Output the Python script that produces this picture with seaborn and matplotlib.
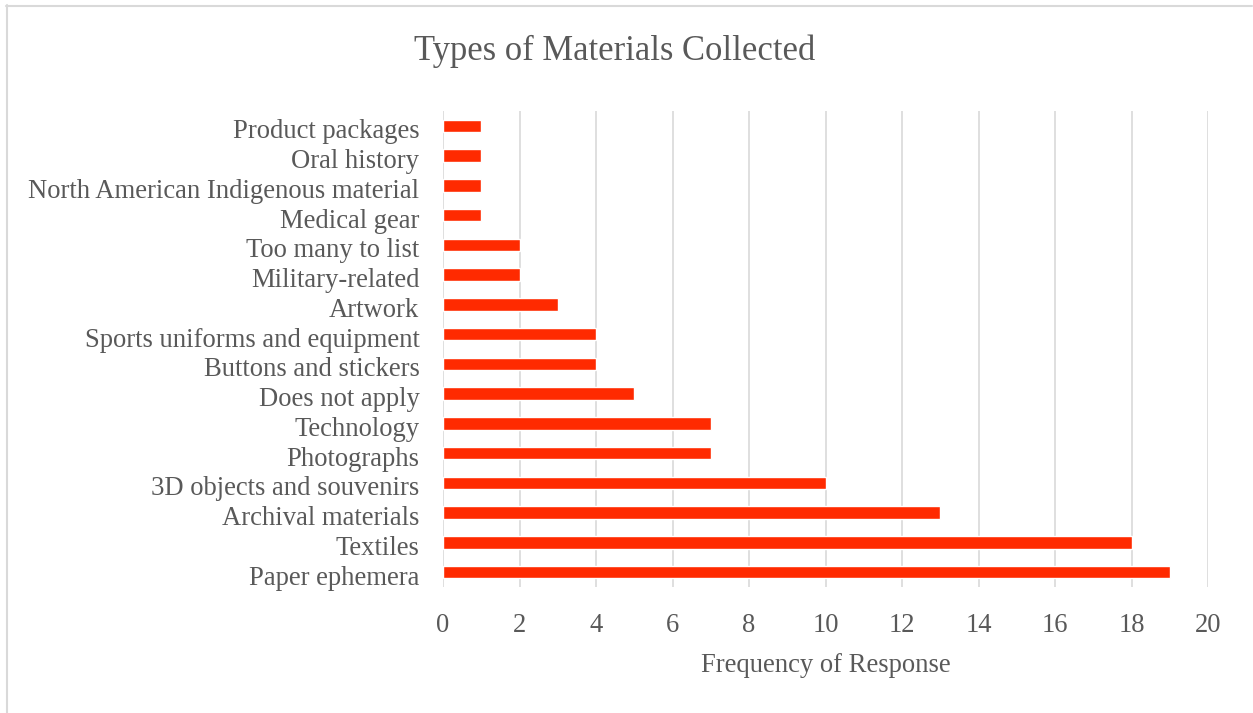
import matplotlib
matplotlib.use("Agg")
import matplotlib.pyplot as plt
import matplotlib.transforms as mtransforms
import seaborn as sns
import pandas as pd

categories = [
    "Product packages",
    "Oral history",
    "North American Indigenous material",
    "Medical gear",
    "Too many to list",
    "Military-related",
    "Artwork",
    "Sports uniforms and equipment",
    "Buttons and stickers",
    "Does not apply",
    "Technology",
    "Photographs",
    "3D objects and souvenirs",
    "Archival materials",
    "Textiles",
    "Paper ephemera",
]
counts = [1, 1, 1, 1, 2, 2, 3, 4, 4, 5, 7, 7, 10, 13, 18, 19]
x_ticks = list(range(0, 21, 2))

df = pd.DataFrame({"category": categories, "count": counts})

sns.set_theme(style="white")
plt.rcParams["font.family"] = ["Liberation Serif", "DejaVu Serif"]

text_color = "#595959"
grid_color = "#D9D9D9"
bar_color = "#FF2A00"

fig = plt.figure(figsize=(12.53, 7.13), dpi=100)
ax = fig.add_axes([0.3536, 0.1767, 0.6105, 0.6676])

sns.barplot(data=df, x="count", y="category", orient="h", color=bar_color,
            width=0.42, saturation=1, ax=ax, order=categories)

ax.set_xlim(0, 20)
ax.set_ylim(len(categories) - 0.5, -0.5)
ax.set_xticks(x_ticks)
ax.set_xticklabels([str(t) for t in x_ticks])
ax.xaxis.grid(True, color=grid_color, linewidth=1.2)
ax.set_axisbelow(True)
for s in ax.spines.values():
    s.set_visible(False)
ax.tick_params(axis="both", length=0, labelsize=19.2, colors=text_color)
ax.tick_params(axis="x", pad=19)
ax.tick_params(axis="y", pad=17)
ax.set_ylabel("")
ax.set_xlabel("Frequency of Response", fontsize=19.2, color=text_color, labelpad=10.5)

# category labels sit slightly below the bar centres
offset = mtransforms.ScaledTranslation(0, -3 / 100, fig.dpi_scale_trans)
for lbl in ax.get_yticklabels():
    lbl.set_transform(lbl.get_transform() + offset)

fig.text(615 / 1253, 1 - 51 / 713, "Types of Materials Collected",
         ha="center", va="center", fontsize=24.9, color=text_color)

# chart frame (top and left edges)
frame_color = "#D9D9D9"
fig.add_artist(plt.Line2D([6 / 1253, 1252 / 1253], [1 - 5.5 / 713, 1 - 5.5 / 713],
                          color=frame_color, linewidth=1.5, transform=fig.transFigure))
fig.add_artist(plt.Line2D([6.5 / 1253, 6.5 / 1253], [1 - 5 / 713, 0],
                          color=frame_color, linewidth=1.5, transform=fig.transFigure))

fig.savefig("out.png", dpi=100)
